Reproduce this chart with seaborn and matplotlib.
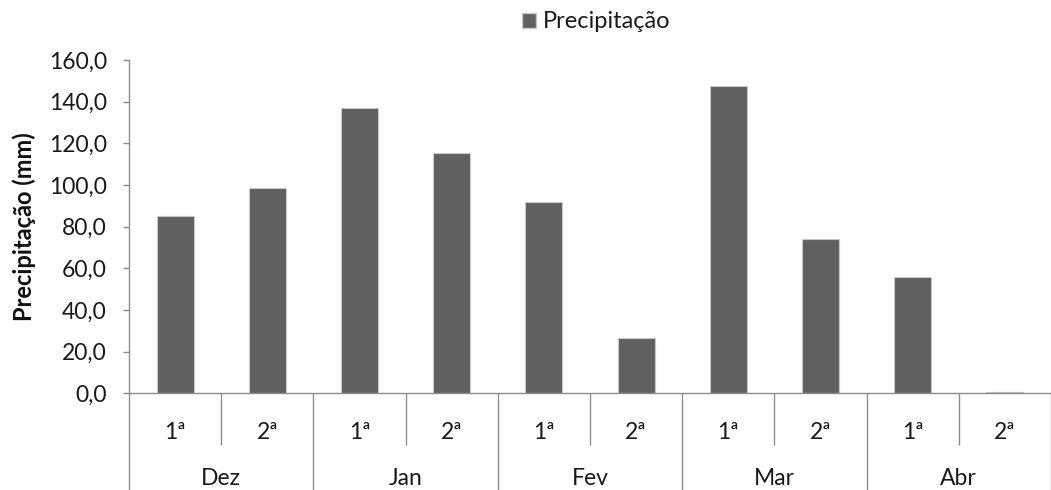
import matplotlib
matplotlib.use("Agg")
import matplotlib.pyplot as plt
import matplotlib.transforms as mtransforms
from matplotlib.ticker import FuncFormatter, FixedLocator
from matplotlib.patches import Patch
import seaborn as sns
import pandas as pd

# Rainfall per half-month (mm)
months = ["Dez", "Jan", "Fev", "Mar", "Abr"]
halves = ["1ª", "2ª"]
precip = [85.1, 98.7, 136.8, 115.4, 91.8, 26.7, 147.5, 73.9, 55.7, 0.8]

slots = [f"{m} {h}" for m in months for h in halves]
df = pd.DataFrame({"periodo": slots, "precip": precip})

sns.set_theme(style="white")
plt.rcParams["font.family"] = ["Lato", "DejaVu Sans"]

fig = plt.figure(figsize=(10.51, 4.90), dpi=100)
ax = fig.add_axes([129 / 1051, 96.7 / 490, (1051 - 129) / 1051, 333.3 / 490])

bar_color = "#606060"
axis_color = "#8c8c8c"
text_color = "#1a1a1a"
fs = 16.5

sns.barplot(data=df, x="periodo", y="precip", color=bar_color, width=0.4,
            edgecolor="#c8c8c8", linewidth=0.8, ax=ax)

ax.set_ylim(0, 160)
ax.set_xlim(-0.5, 9.38)
ax.yaxis.set_major_locator(FixedLocator(range(0, 161, 20)))
ax.yaxis.set_major_formatter(FuncFormatter(lambda v, p: f"{v:.1f}".replace(".", ",")))
ax.tick_params(axis="y", direction="out", length=4, width=1, color=axis_color,
               labelsize=fs, labelcolor=text_color, pad=12, left=True)

# Category boundaries drawn as long ticks under the axis
n = len(slots)
sub_bounds = [i + 0.5 for i in range(0, n, 2)]
month_bounds = [i - 0.5 for i in range(0, n + 1, 2)]
ax.set_xticks(month_bounds)
ax.set_xticks(sub_bounds, minor=True)
ax.set_xticklabels([])
ax.tick_params(axis="x", which="major", direction="out", length=70, width=1,
               color=axis_color, bottom=True)
ax.tick_params(axis="x", which="minor", direction="out", length=37.5, width=1,
               color=axis_color, bottom=True)

trans = mtransforms.blended_transform_factory(ax.transData, ax.transAxes)
for i in range(n):
    ax.text(i, -0.117, halves[i % 2], transform=trans, ha="center", va="center",
            fontsize=fs, color=text_color)
for j, m in enumerate(months):
    ax.text(2 * j + 0.5, -0.255, m, transform=trans, ha="center", va="center",
            fontsize=fs, color=text_color)

for side in ["top", "right"]:
    ax.spines[side].set_visible(False)
for side in ["left", "bottom"]:
    ax.spines[side].set_color(axis_color)
    ax.spines[side].set_linewidth(1)

ax.set_xlabel("")
ax.set_ylabel("Precipitação (mm)", fontsize=17, fontweight="bold", color="#111111",
              labelpad=9)

handle = Patch(facecolor=bar_color, edgecolor="#c8c8c8", label="Precipitação")
fig.legend(handles=[handle], loc="center", bbox_to_anchor=(596 / 1051, 1 - 22 / 490),
           frameon=False, fontsize=17, handlelength=0.6, handleheight=0.6,
           handletextpad=0.3, labelcolor=text_color)

fig.savefig("out.png", dpi=100)
